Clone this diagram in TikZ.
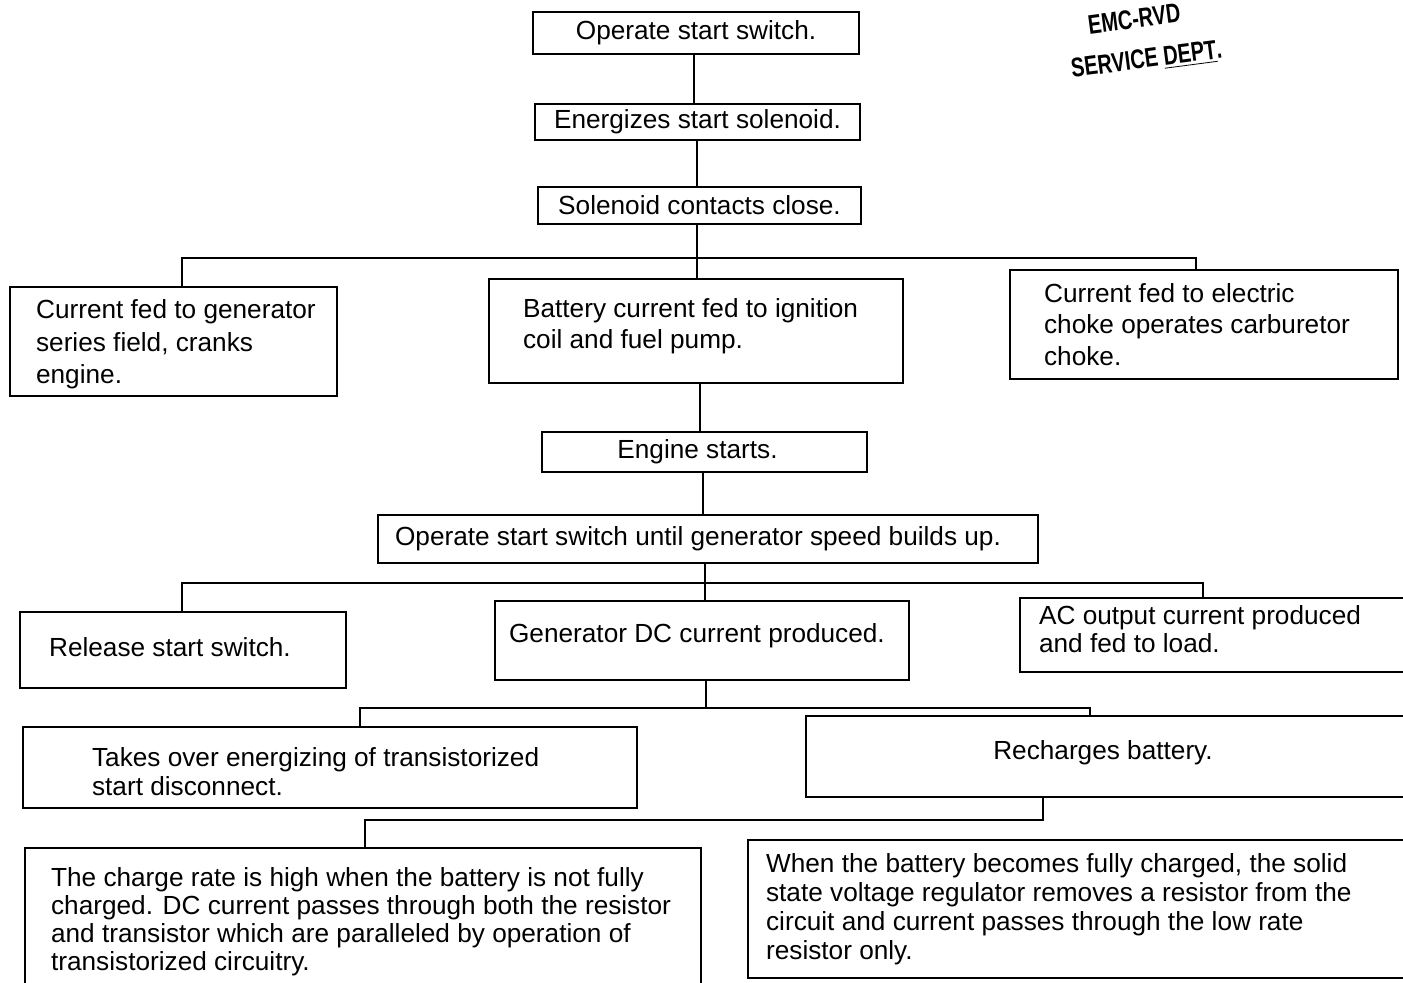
\documentclass[tikz,border=0pt]{standalone}
\usepackage{fontspec}
\setmainfont{Liberation Sans}
\begin{document}
\begin{tikzpicture}[x=0.5pt,y=-0.5pt,
  box/.style={draw, line width=1.3pt, rectangle, inner sep=0pt},
  txt/.style={inner sep=0pt, align=left, font=\fontsize{13.1}{#1}\selectfont},
  txt/.default=15pt,
  conn/.style={line width=0.9pt},
  stamp/.style={inner sep=0pt, align=center, font=\fontsize{13.5}{13.5}\selectfont\bfseries, rotate=7.5}]
\useasboundingbox (0,0) rectangle (1403,983);
\clip (0,0) rectangle (1403,983);
% boxes
\node[box, minimum width=163pt, minimum height=21pt] (b1) at (696,33) {};
\node[box, minimum width=162.5pt, minimum height=18pt] (b2) at (697.5,122) {};
\node[box, minimum width=161.5pt, minimum height=18.5pt] (b3) at (699.5,205.5) {};
\node[box, minimum width=163.5pt, minimum height=54.5pt] (b4) at (173.5,341.5) {};
\node[box, minimum width=207pt, minimum height=52pt] (b5) at (696,331) {};
\node[box, minimum width=194pt, minimum height=54.5pt] (b6) at (1204,324.5) {};
\node[box, minimum width=162.5pt, minimum height=20pt] (b7) at (704.5,452) {};
\node[box, minimum width=330pt, minimum height=24pt] (b8) at (708,539) {};
\node[box, minimum width=163pt, minimum height=38pt] (b9) at (183,650) {};
\node[box, minimum width=207pt, minimum height=39.5pt] (b10) at (702,640.5) {};
\node[box, minimum width=195pt, minimum height=37pt] (b11) at (1215,635) {};
\node[box, minimum width=307pt, minimum height=40.5pt] (b12) at (330,767.5) {};
\node[box, minimum width=302pt, minimum height=40.5pt] (b13) at (1108,756.5) {};
\node[box, minimum width=338pt, minimum height=72pt] (b14) at (363,920) {};
\node[box, minimum width=331pt, minimum height=69pt] (b15) at (1079,909) {};
% texts
\node[txt] (t1) at (b1) {Operate start switch.};
\node[txt] (t2) at (b2) {Energizes start solenoid.};
\node[txt] (t3) at (b3) {Solenoid contacts close.};
\node[txt=16.25pt, anchor=west] (t4) at ([xshift=13.5pt,yshift=-1.5pt]b4.west) {Current fed to generator\\series field, cranks\\engine.};
\node[txt=15.5pt, anchor=west] (t5) at ([xshift=17.5pt,yshift=2.5pt]b5.west) {Battery current fed to ignition\\coil and fuel pump.};
\node[txt=15.75pt, anchor=west] (t6) at ([xshift=17.5pt]b6.west) {Current fed to electric\\choke operates carburetor\\choke.};
\node[txt] (t7) at ([xshift=-3.5pt]b7.center) {Engine starts.};
\node[txt] (t8) at ([xshift=-5pt]b8.center) {Operate start switch until generator speed builds up.};
\node[txt, anchor=west] (t9) at ([xshift=15pt,yshift=1.5pt]b9.west) {Release start switch.};
\node[txt, anchor=west] (t10) at ([xshift=7.5pt,yshift=2.5pt]b10.west) {Generator DC current produced.};
\node[txt=14pt, anchor=west] (t11) at ([xshift=10pt,yshift=3pt]b11.west) {AC output current produced\\and fed to load.};
\node[txt=14.5pt, anchor=west] (t12) at ([xshift=35pt,yshift=-2pt]b12.west) {Takes over energizing of transistorized\\start disconnect.};
\node[txt] (t13) at ([xshift=-2.5pt,yshift=2pt]b13.center) {Recharges battery.};
\node[txt=14pt, anchor=west] (t14) at ([xshift=13.5pt,yshift=-1pt]b14.west) {The charge rate is high when the battery is not fully\\charged. DC current passes through both the resistor\\and transistor which are paralleled by operation of\\transistorized circuitry.};
\node[txt=14.5pt, anchor=west] (t15) at ([xshift=9.5pt]b15.west) {When the battery becomes fully charged, the solid\\state voltage regulator removes a resistor from the\\circuit and current passes through the low rate\\resistor only.};
% connector coordinates
\coordinate (k1) at (694,80);
\coordinate (k2) at (697,160);
\coordinate (ja) at (182,258);
\coordinate (jb) at (697,258);
\coordinate (jc) at (1196,258);
\coordinate (k3) at (700,400);
\coordinate (k4) at (703,490);
\coordinate (jd) at (182,583);
\coordinate (je) at (705,583);
\coordinate (jf) at (1203,583);
\coordinate (jg) at (360,708);
\coordinate (jh) at (706,708);
\coordinate (ji) at (1090,708);
\coordinate (jj) at (1043,820);
\coordinate (jk) at (365,820);
% connectors
\draw[conn] (b1.south -| k1) -- (b2.north -| k1);
\draw[conn] (b2.south -| k2) -- (b3.north -| k2);
\draw[conn] (b3.south -| jb) -- (b5.north -| jb);
\draw[conn] (b4.north -| ja) -- (ja) -- (jc) -- (b6.north -| jc);
\draw[conn] (b5.south -| k3) -- (b7.north -| k3);
\draw[conn] (b7.south -| k4) -- (b8.north -| k4);
\draw[conn] (b8.south -| je) -- (b10.north -| je);
\draw[conn] (b9.north -| jd) -- (jd) -- (jf) -- (b11.north -| jf);
\draw[conn] (b10.south -| jh) -- (jh);
\draw[conn] (b12.north -| jg) -- (jg) -- (ji) -- (b13.north -| ji);
\draw[conn] (b13.south -| jj) -- (jj) -- (jk) -- (b14.north -| jk);
% stamp
\node[stamp] (s1) at (1144,40) {\scalebox{0.74}[1]{EMC-RVD}\hspace*{7pt}\\[7pt]\scalebox{0.74}[1]{SERVICE \underline{DEPT}.}};
\end{tikzpicture}
\end{document}
